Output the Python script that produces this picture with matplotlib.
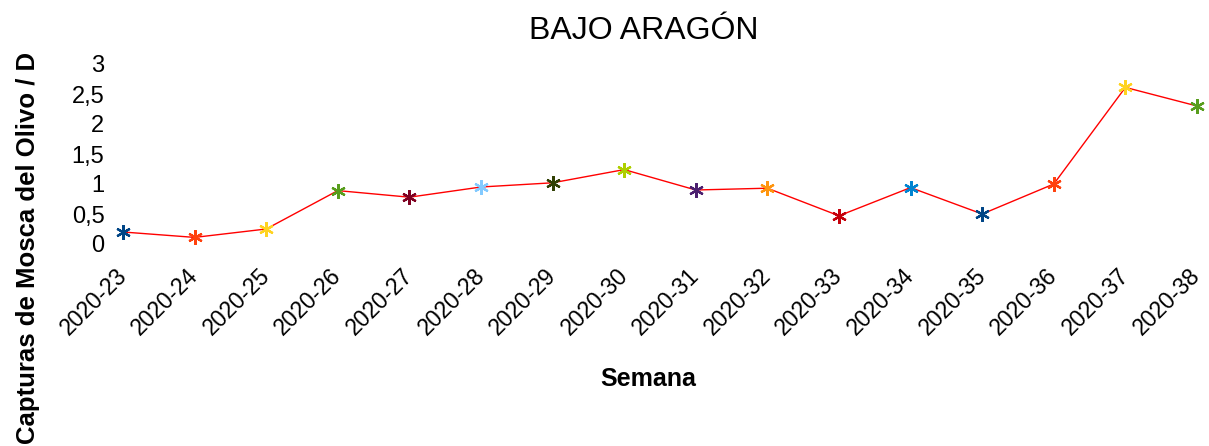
import matplotlib.pyplot as plt

# weekly data
semanas = ['2020-23', '2020-24', '2020-25', '2020-26', '2020-27', '2020-28',
           '2020-29', '2020-30', '2020-31', '2020-32', '2020-33', '2020-34',
           '2020-35', '2020-36', '2020-37', '2020-38']
capturas = [0.2, 0.11, 0.25, 0.89, 0.78, 0.95, 1.02, 1.24, 0.9, 0.93,
            0.47, 0.94, 0.5, 1.0, 2.61, 2.3]
colores = ['#004586', '#ff420e', '#ffd320', '#579d1c', '#7e0021', '#83caff',
           '#314004', '#aecf00', '#4b1f6f', '#ff950e', '#c5000b', '#0084d1',
           '#004586', '#ff420e', '#ffd320', '#579d1c']
yticks = [0, 0.5, 1, 1.5, 2, 2.5, 3]
ytick_labels = ['0', '0,5', '1', '1,5', '2', '2,5', '3']

plt.rcParams['font.family'] = ['Liberation Sans', 'DejaVu Sans']

W, H = 1209, 446
fig = plt.figure(figsize=(W / 100, H / 100), dpi=100)

# axes placed in pixel terms: left 110, right = figure edge, y from 244 (0) to 64 (3)
ax = fig.add_axes([110 / W, (H - 244) / H, (W - 110) / W, (244 - 64) / H])

x = list(range(len(semanas)))
ax.plot(x, capturas, color='#ff0000', linewidth=1.0, zorder=2)
for xi, yi, c in zip(x, capturas, colores):
    ax.plot(xi, yi, linestyle='none', marker=(6, 2, 0), markersize=10.5,
            markeredgewidth=1.6, color=c, zorder=3)

ax.set_xlim((110 - 123) / 71.6, (W - 123) / 71.6)
ax.set_ylim(0, 3)
ax.set_yticks(yticks)
ax.set_yticklabels(ytick_labels, fontsize=17)
ax.set_xticks(x)
ax.set_xticklabels(semanas, fontsize=16.5, rotation=45, ha='right',
                   va='center', rotation_mode='anchor')
ax.tick_params(axis='y', length=0, pad=4)
ax.tick_params(axis='x', length=0, pad=20)
for s in ax.spines.values():
    s.set_visible(False)
ax.patch.set_visible(False)

fig.text(644 / W, 1 - 39 / H, 'BAJO ARAGÓN', fontsize=23, ha='center', va='baseline')
fig.text(648 / W, 1 - 386 / H, 'Semana', fontsize=18, fontweight='bold',
         ha='center', va='baseline')
fig.text(28 / W, 2 / H, 'Capturas de Mosca del Olivo / D', fontsize=18.5,
         fontweight='bold', rotation=90, ha='center', va='bottom')

fig.savefig('out.png', dpi=100)
